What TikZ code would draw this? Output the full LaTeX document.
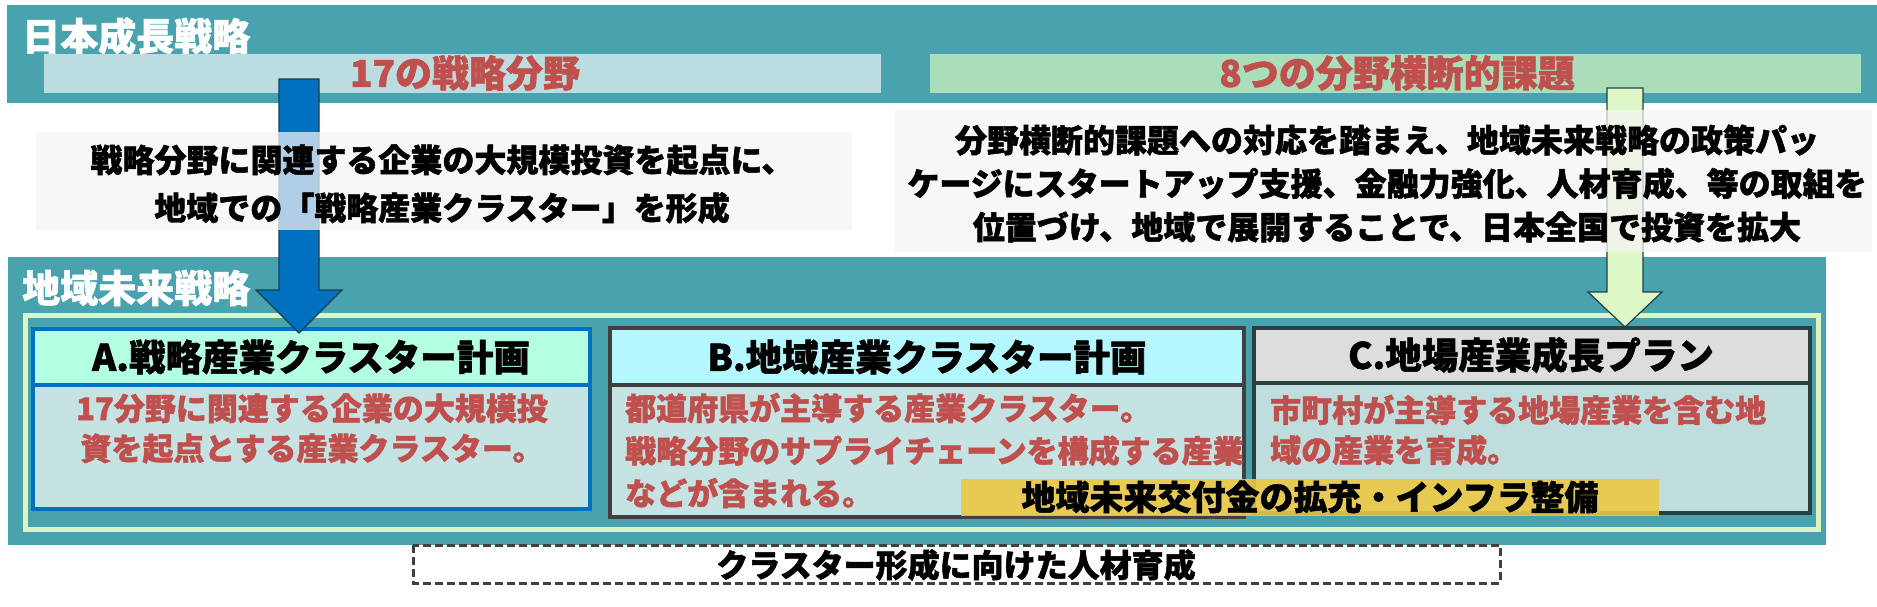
\documentclass[tikz,border=0pt]{standalone}
\usepackage{fontspec}
\setmainfont{Noto Sans CJK JP}[BoldFeatures={FakeBold=1.5}]
\definecolor{bandteal}{HTML}{48A3AE}
\definecolor{stripblue}{HTML}{BCDDE0}
\definecolor{stripgreen}{HTML}{AADDBA}
\definecolor{redtxt}{HTML}{C0504D}
\definecolor{arrowblue}{HTML}{0070C0}
\definecolor{arrowgreen}{HTML}{DDF8C6}
\definecolor{arrowedge}{HTML}{1F3F48}
\definecolor{framegreen}{HTML}{DDF5C2}
\definecolor{hdrA}{HTML}{B3FFE0}
\definecolor{hdrB}{HTML}{B5F7FF}
\definecolor{hdrC}{HTML}{DDDDDD}
\definecolor{bodyA}{HTML}{C5E3E3}
\definecolor{bodyC}{HTML}{C0DDDE}
\definecolor{borderB}{HTML}{404040}
\definecolor{borderC}{HTML}{2A4040}
\definecolor{yellowban}{HTML}{EBC843}
\definecolor{boxgray}{HTML}{F5F5F5}
\begin{document}
\begin{tikzpicture}[x=1pt,y=-1pt,
  titletext/.style={text=white,font=\fontsize{38}{38}\selectfont\bfseries,inner sep=0,anchor=west},
  striptext/.style={text=redtxt,font=\fontsize{37}{37}\selectfont\bfseries,inner sep=0},
  infotext/.style={text=black,font=\fontsize{32}{48}\selectfont\bfseries,inner sep=0,align=center},
  hdrtext/.style={text=black,font=\fontsize{36.5}{36.5}\selectfont\bfseries,inner sep=0},
  bodytext/.style={text=redtxt,font=\fontsize{31}{40}\selectfont\bfseries,inner sep=0},
  infobox/.style={fill=boxgray,fill opacity=0.72},
  blockarrow/.style={draw=arrowedge,line width=1.2,line join=miter}
]
\useasboundingbox (0,0) rectangle (1877,606);
\fill[white] (0,0) rectangle (1877,606);
% upper band
\fill[bandteal] (7,5) rectangle (1877,103);
\node[titletext] (t1) at (22,36) {日本成長戦略};
\fill[stripblue] (44,54) rectangle (881,93);
\node[striptext] (s1) at (465,73) {17の戦略分野};
\fill[stripgreen] (930,54) rectangle (1861,93);
\node[striptext] (s2) at (1397,73) {8つの分野横断的課題};
% lower band
\fill[bandteal] (8,257) rectangle (1826,545);
\node[titletext] (t2) at (22,288) {地域未来戦略};
\draw[framegreen,line width=5] (25.5,315.5) rectangle (1818.5,529.5);
% box A
\fill[bodyA] (33,385) rectangle (590,509);
\fill[hdrA] (33,329) rectangle (590,385);
\draw[arrowblue,line width=3.5] (33,329) rectangle (590,509) (33,385) -- (590,385);
\node[hdrtext] (ah) at (311,357) {A.戦略産業クラスター計画};
\node[bodytext,align=center] (ab) at (312,428.5) {17分野に関連する企業の大規模投\\資を起点とする産業クラスター。};
% box B
\fill[bodyA] (610,385) rectangle (1244,517);
\fill[hdrB] (610,328) rectangle (1244,385);
\draw[borderB,line width=4] (610,328) rectangle (1244,517) (610,385) -- (1244,385);
\node[hdrtext] (bh) at (927,357) {B.地域産業クラスター計画};
\node[bodytext,align=left,anchor=west,font=\fontsize{31}{42.5}\selectfont\bfseries] (bb) at (625,450.5) {都道府県が主導する産業クラスター。\\戦略分野のサプライチェーンを構成する産業\\などが含まれる。};
% box C
\fill[bodyC] (1254,383) rectangle (1810,513);
\fill[hdrC] (1254,328) rectangle (1810,383);
\draw[borderC,line width=3.5] (1254,328) rectangle (1810,513) (1254,383) -- (1810,383);
\node[hdrtext] (ch) at (1531,355) {C.地場産業成長プラン};
\node[bodytext,align=left,anchor=west] (cb) at (1270,430) {市町村が主導する地場産業を含む地\\域の産業を育成。};
% arrows
\coordinate (ba) at (299,79);
\coordinate (ga) at (1625,88);
\draw[blockarrow,fill=arrowblue] ([xshift=-20]ba) -- ([xshift=20]ba) -- (319,290) -- (342,290) -- (299,333) -- (256,290) -- (279,290) -- cycle;
\draw[blockarrow,fill=arrowgreen] ([xshift=-18]ga) -- ([xshift=18]ga) -- (1643,292) -- (1662,292) -- (1625,327) -- (1588,292) -- (1607,292) -- cycle;
% info boxes
\fill[infobox] (36,132) rectangle (852,230);
\node[infotext] (i1) at (442,184) {戦略分野に関連する企業の大規模投資を起点に、\\地域での「戦略産業クラスター」を形成};
\fill[infobox] (895,110) rectangle (1872,252);
\node[infotext,font=\fontsize{32}{43.5}\selectfont\bfseries] (i2) at (1387,183.5) {分野横断的課題への対応を踏まえ、地域未来戦略の政策パッ\\ケージにスタートアップ支援、金融力強化、人材育成、等の取組を\\位置づけ、地域で展開することで、日本全国で投資を拡大};
% yellow banner
\fill[yellowban,fill opacity=0.9] (961,479) rectangle (1659,516);
\node[infotext,font=\fontsize{34}{34}\selectfont\bfseries] (yb) at (1310,497) {地域未来交付金の拡充・インフラ整備};
% dashed box
\draw[borderB,line width=3,dash pattern=on 8pt off 4pt] (413,545) rectangle (1500,583);
\node[infotext] (db) at (956,565) {クラスター形成に向けた人材育成};
\end{tikzpicture}
\end{document}
